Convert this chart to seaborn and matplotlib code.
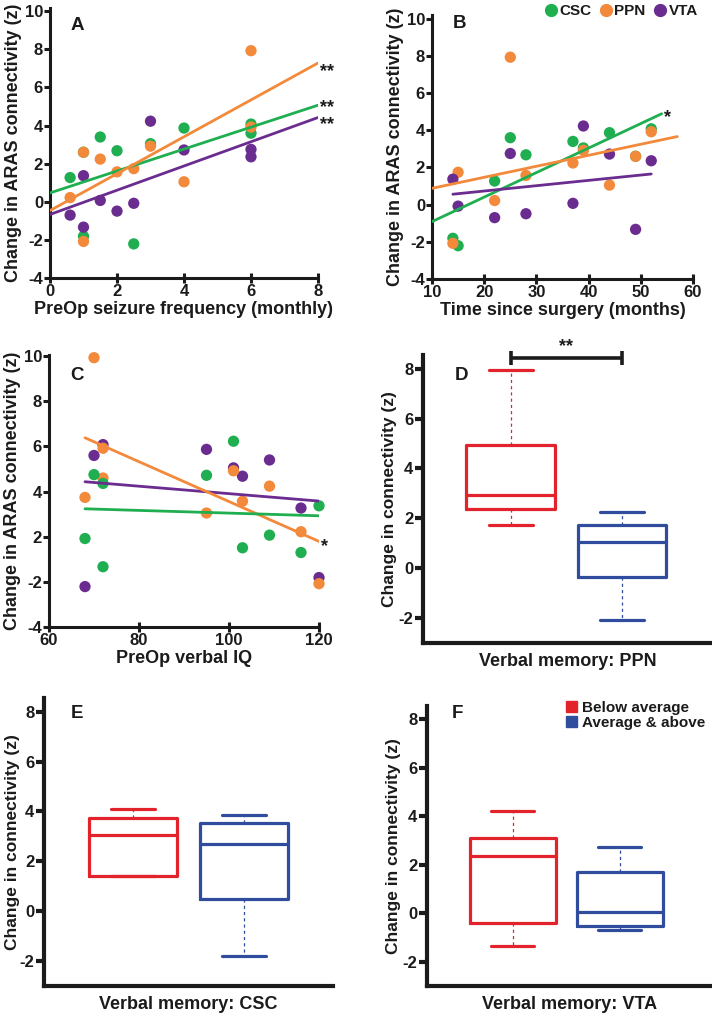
import numpy as np
import pandas as pd
import matplotlib
matplotlib.use('Agg')
import matplotlib.pyplot as plt
import matplotlib.patches as mpatches
from matplotlib.lines import Line2D
import seaborn as sns

# ten patients, same order in every list
seizure_freq = [0.6, 1.0, 1.0, 1.5, 2.0, 2.5, 3.0, 4.0, 6.0, 6.0]
months_since = [22, 49, 14, 37, 28, 15, 39, 44, 25, 52]
verbal_iq = [116, 72, 120, 109, 103, 68, 101, 95, 70, 72]
csc_z = [1.27, 2.60, -1.81, 3.40, 2.68, -2.21, 3.05, 3.87, 3.60, 4.08]
ppn_z = [0.22, 2.60, -2.08, 2.24, 1.57, 1.74, 2.92, 1.05, 7.93, 3.92]
vta_z = [-0.70, -1.33, 1.37, 0.07, -0.49, -0.08, 4.23, 2.72, 2.75, 2.36]
memory_group = ['Average & above', 'Below average', 'Average & above', 'Average & above',
                'Average & above', 'Below average', 'Below average', 'Average & above',
                'Below average', 'Below average']
# panel C leaves patient 2 out of the CSC series
csc_z_iq = [np.nan if i == 1 else v for i, v in enumerate(csc_z)]

# x-range over which each fit line is drawn
span_a = {'CSC': (0, 8), 'PPN': (0, 8), 'VTA': (0, 8)}
span_b = {'CSC': (10, 54), 'PPN': (10, 57), 'VTA': (14, 52)}
span_c = {'CSC': (68, 120), 'PPN': (68, 120), 'VTA': (68, 120)}
stars_a = {'CSC': '**', 'PPN': '**', 'VTA': '**'}
stars_b = {'CSC': '*'}
stars_c = {'PPN': '*'}
groups = ['Below average', 'Average & above']

GREEN = '#1fae50'
ORANGE = '#f3893b'
PURPLE = '#6b2c90'
RED = '#e3232b'
BLUE = '#2f4d9c'
INK = '#1b1b1b'
W, H = 712, 1013

sns.set_theme(style='ticks')
plt.rcParams['font.family'] = ['Liberation Sans', 'DejaVu Sans']
plt.rcParams['font.weight'] = 'bold'
plt.rcParams['axes.labelweight'] = 'bold'
plt.rcParams['axes.unicode_minus'] = False
plt.rcParams['text.color'] = INK
plt.rcParams['axes.labelcolor'] = INK


def px_axes(fig, left, top, right, bottom):
    return fig.add_axes([left / W, 1 - bottom / H, (right - left) / W, (bottom - top) / H])


def style_axes(ax, lw=2.2, tick_len=4):
    sns.despine(ax=ax)
    for side in ['left', 'bottom']:
        ax.spines[side].set_linewidth(lw)
        ax.spines[side].set_color(INK)
    ax.tick_params(axis='y', direction='out', length=tick_len, width=lw, color=INK,
                   labelsize=12, pad=1, labelcolor=INK)
    ax.tick_params(axis='x', direction='inout', length=7, width=lw, color=INK,
                   labelsize=12, pad=1, labelcolor=INK)
    ax.set_facecolor('none')


def fit_line(x, y, lo, hi):
    df = pd.DataFrame({'x': x, 'y': y}).dropna()
    slope, icpt = np.polyfit(df['x'], df['y'], 1)
    xs = np.array([lo, hi], dtype=float)
    return xs, slope * xs + icpt


def scatter_panel(ax, x, series, spans, stars, star_dy):
    for name, y, color in series:
        sns.scatterplot(x=x, y=y, color=color, s=66, edgecolor='none', ax=ax, zorder=3,
                        clip_on=False)
    for name, y, color in series:
        xs, ys = fit_line(x, y, *spans[name])
        sns.lineplot(x=xs, y=ys, color=color, lw=2.0, ax=ax, zorder=4)
        if name in stars:
            ax.annotate(stars[name], (xs[1], ys[1]), xytext=(1.5, star_dy.get(name, -5)),
                        textcoords='offset points', ha='left', va='center',
                        fontsize=13, annotation_clip=False)


fig = plt.figure(figsize=(W / 100, H / 100), dpi=100)
YLAB = 'Change in ARAS connectivity (z)'
LAB = 13

# A
ax = px_axes(fig, 50, 8, 318, 278)
scatter_panel(ax, seizure_freq,
              [('CSC', csc_z, GREEN), ('PPN', ppn_z, ORANGE), ('VTA', vta_z, PURPLE)],
              span_a, stars_a, {'CSC': -2, 'PPN': -6, 'VTA': -5})
ax.set_xlim(0, 8)
ax.set_ylim(-4, 10.17)
ax.set_xticks(range(0, 9, 2))
ax.set_yticks(range(-4, 11, 2))
ax.set_xlabel('PreOp seizure frequency (monthly)', fontsize=LAB, labelpad=1)
ax.set_ylabel(YLAB, fontsize=LAB, labelpad=2)
style_axes(ax)

# B
ax = px_axes(fig, 432, 15, 693, 279)
scatter_panel(ax, months_since,
              [('CSC', csc_z, GREEN), ('PPN', ppn_z, ORANGE), ('VTA', vta_z, PURPLE)],
              span_b, stars_b, {'CSC': -3})
ax.set_xlim(10, 60)
ax.set_ylim(-4, 10.2)
ax.set_xticks(range(10, 61, 10))
ax.set_yticks(range(-4, 11, 2))
ax.set_xlabel('Time since surgery (months)', fontsize=LAB, labelpad=1)
ax.set_ylabel(YLAB, fontsize=LAB, labelpad=2)
style_axes(ax)

# C (colours of CSC and VTA swapped, tick labels as printed in the figure)
ax = px_axes(fig, 49, 355, 319, 627)
scatter_panel(ax, verbal_iq,
              [('CSC', csc_z_iq, PURPLE), ('PPN', ppn_z, ORANGE), ('VTA', vta_z, GREEN)],
              span_c, stars_c, {'PPN': -4})
ax.set_xlim(60, 120)
ax.set_ylim(-4, 8.05)
ax.set_xticks(range(60, 121, 20))
ax.set_yticks([8, 6, 4, 2, 0, -2, -4])
ax.set_yticklabels(['10', '8', '6', '4', '2', '-2', '-4'])
ax.set_xlabel('PreOp verbal IQ', fontsize=LAB, labelpad=1)
ax.set_ylabel(YLAB, fontsize=LAB, labelpad=2)
style_axes(ax)


def matlab_box_stats(values):
    v = np.sort(np.asarray(values, dtype=float))
    q1, med, q3 = np.percentile(v, [25, 50, 75], method='hazen')
    iqr = q3 - q1
    lo_in = v[v >= q1 - 1.5 * iqr].min()
    hi_in = v[v <= q3 + 1.5 * iqr].max()
    return dict(med=med, q1=q1, q3=q3, whislo=min(lo_in, q1), whishi=max(hi_in, q3), fliers=[])


def box_panel(ax, values, xlabel, xlim):
    df = pd.DataFrame({'z': values, 'group': memory_group})
    for pos, (grp, color) in enumerate(zip(groups, [RED, BLUE])):
        st = matlab_box_stats(df.loc[df['group'] == grp, 'z'])
        ax.bxp([st], positions=[pos], widths=0.8, capwidths=0.4, showfliers=False,
               boxprops=dict(color=color, lw=2.3),
               medianprops=dict(color=color, lw=2.3),
               whiskerprops=dict(color=color, lw=0.9, linestyle=(0, (2.5, 2.5))),
               capprops=dict(color=color, lw=2.3))
    ax.set_xlim(*xlim)
    ax.set_ylim(-3, 8.55)
    ax.set_yticks(range(-2, 9, 2))
    ax.set_xticks([])
    ax.set_xlabel(xlabel, fontsize=LAB, labelpad=7)
    ax.set_ylabel('Change in connectivity (z)', fontsize=12.5, labelpad=1)
    style_axes(ax, lw=3.0, tick_len=6)


# D
ax = px_axes(fig, 423, 355, 712, 643)
box_panel(ax, ppn_z, 'Verbal memory: PPN', (-0.79, 1.81))
yb = max(ppn_z) + 0.5
ax.plot([0, 1], [yb, yb], color=INK, lw=2.6, clip_on=False, solid_capstyle='butt')
for xb in [0, 1]:
    ax.plot([xb, xb], [yb - 0.3, yb + 0.3], color=INK, lw=2.6, clip_on=False,
            solid_capstyle='butt')
ax.text(0.5, yb + 0.12, '**', ha='center', va='bottom', fontsize=13)

# E
ax = px_axes(fig, 44, 698, 333, 986)
box_panel(ax, csc_z, 'Verbal memory: CSC', (-0.81, 1.81))
ax.yaxis.labelpad = 0

# F
ax = px_axes(fig, 427, 706, 712, 986)
box_panel(ax, vta_z, 'Verbal memory: VTA', (-0.80, 1.86))

# panel letters
for letter, (px, py) in zip('ABCDEF', [(77, 25), (460, 23), (77, 375), (461, 375),
                                        (77, 713), (457, 713)]):
    fig.text(px / W, 1 - py / H, letter, ha='center', va='center', fontsize=13.5)

# legends
dots = [Line2D([], [], marker='o', ls='none', color=c, markersize=8.5, label=n)
        for n, c in zip(['CSC', 'PPN', 'VTA'], [GREEN, ORANGE, PURPLE])]
fig.legend(handles=dots, loc='upper right', bbox_to_anchor=(704 / W, 1 + 2 / H), ncol=3,
           frameon=False, fontsize=11, handletextpad=0.05, columnspacing=0.45,
           handlelength=1.0, borderaxespad=0)
boxes = [mpatches.Patch(color=c, label=g) for g, c in zip(groups, [RED, BLUE])]
fig.legend(handles=boxes, loc='upper right', bbox_to_anchor=(711 / W, 1 - 695 / H),
           frameon=False, fontsize=11, handletextpad=0.3, handlelength=0.7, handleheight=0.7,
           labelspacing=0.05, borderaxespad=0)

fig.savefig('out.png', dpi=100)
